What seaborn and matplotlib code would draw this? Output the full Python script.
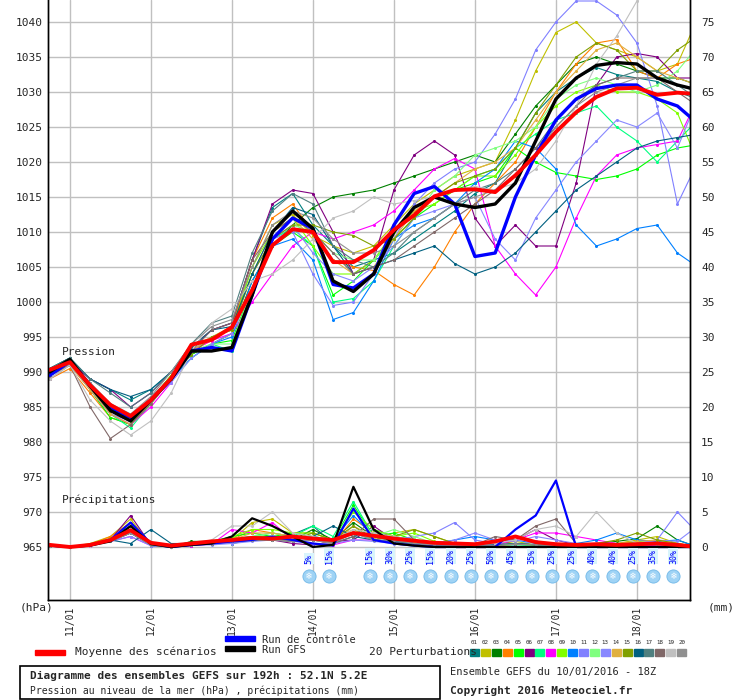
import numpy as np
import pandas as pd
import matplotlib
matplotlib.use("Agg")
import matplotlib.pyplot as plt
from matplotlib.patches import Rectangle
import seaborn as sns

# 6-hourly steps from 10/01 18Z
steps = list(range(33))
day_labels = ["11/01", "12/01", "13/01", "14/01", "15/01", "16/01", "17/01", "18/01"]
day_steps = [1, 5, 9, 13, 17, 21, 25, 29]

mean_p = [990.3, 991.4, 988.1, 985.3, 983.7, 986, 989.1, 993.9, 994.6, 996.4, 1001.7, 1008.1, 1010.4, 1010, 1005.7,
          1005.7, 1007.4, 1010.3, 1012.4, 1015.1, 1016, 1016.1, 1015.7, 1018.1, 1021, 1024.3, 1027.1, 1029.3,
          1030.5, 1030.6, 1029.6, 1029.9, 1029.7]
gfs_p = [990, 991.8, 988, 984.5, 983, 986, 989, 993, 993, 993.5, 1001, 1010, 1013, 1010.5, 1003, 1001.5, 1004, 1010,
         1013.5, 1015, 1014, 1013.5, 1014, 1017, 1023, 1029, 1032, 1033.8, 1034.2, 1034, 1032, 1031, 1030.3]
ctrl_p = [989.5, 991.5, 988, 984.8, 983.5, 986, 989, 993, 993.5, 993, 1001, 1009, 1012, 1010.5, 1002.5, 1002, 1004,
          1011, 1015.5, 1016.5, 1014, 1006.5, 1007, 1015, 1021, 1026, 1029, 1030.5, 1031, 1031, 1029, 1028, 1025.5]

pert_p = [
    [990.5, 992, 989, 987.5, 986, 987.5, 990, 993.5, 996, 997, 1006, 1013.5, 1015.5, 1011, 1008, 1005, 1006, 1007, 1009, 1011, 1013, 1015.5, 1017, 1022, 1027, 1030, 1032, 1033.5, 1032.5, 1032, 1031.5, 1030, 1029],
    [989, 991, 987.5, 984, 982.5, 985.5, 989, 993.5, 995, 996.5, 1005, 1011, 1012.5, 1009.5, 1008, 1007, 1008, 1011, 1014, 1016, 1018, 1019, 1020, 1026, 1033, 1038.5, 1040, 1037, 1036, 1035, 1033, 1034, 1040.5],
    [990, 991.5, 988, 984.5, 983, 986, 989.5, 992.5, 994, 995.5, 1003, 1008, 1011, 1013.5, 1015, 1015.5, 1016, 1017, 1018, 1019, 1020, 1021, 1020, 1024, 1028, 1031, 1034, 1035, 1034, 1033, 1032, 1032, 1031],
    [989, 990.5, 987, 983.5, 982.5, 985.5, 989, 993, 994.5, 996.5, 1006, 1012, 1014, 1010, 1006, 1005, 1004.5, 1002.5, 1001, 1005, 1010, 1014, 1017, 1020, 1025, 1030, 1034, 1037, 1037.5, 1033, 1032, 1034, 1035],
    [990, 991.5, 987.5, 983.5, 982.5, 986, 989.5, 992.5, 994, 994.5, 1002, 1008, 1010, 1008, 1001, 1003, 1006, 1009, 1012, 1014, 1016, 1017, 1018, 1022, 1020, 1018.5, 1018, 1017.5, 1018, 1019, 1021, 1022, 1022.5],
    [990.5, 991.5, 989, 987.5, 985, 987, 990, 993.5, 996, 997, 1006, 1014, 1016, 1015.5, 1010, 1004, 1006, 1016, 1021, 1023, 1021, 1012, 1008, 1011, 1008, 1008, 1017, 1031, 1035, 1035.5, 1035, 1032, 1032],
    [990, 991.5, 988, 984, 982, 985.5, 989, 992, 994, 993, 1002, 1009, 1010.5, 1008, 1000, 1000.5, 1003, 1008, 1012, 1015, 1016, 1018, 1019, 1022, 1024, 1026, 1027, 1028, 1025, 1023, 1020, 1023, 1026],
    [989.5, 991, 987.5, 984, 982.5, 985, 988.5, 993, 994.5, 995.5, 1000, 1004, 1008, 1010, 1009, 1010, 1011, 1013, 1016, 1019, 1020.5, 1019, 1008, 1004, 1001, 1005, 1012, 1018, 1021, 1022, 1022.5, 1023, 1029],
    [989.5, 991, 987.5, 984.5, 983, 986, 989.5, 993, 995, 996, 1005, 1010, 1012, 1008, 1004, 1004, 1006, 1010, 1013, 1014, 1016, 1018, 1018, 1021, 1025, 1028, 1030, 1031, 1030, 1030, 1029, 1027, 1020],
    [990, 991.5, 988.5, 985, 983.5, 986, 989, 992, 994, 995, 1003, 1008, 1009, 1006, 997.5, 998.5, 1003, 1009, 1011, 1012, 1014, 1017, 1019, 1023, 1022, 1019, 1011, 1008, 1009, 1010.5, 1011, 1007, 1005],
    [990, 991.5, 988, 984.5, 983, 986, 989, 993, 995, 996, 1004, 1009, 1010, 1004, 999.5, 1000, 1004, 1009, 1014, 1017, 1019, 1020, 1024, 1029, 1036, 1040, 1043, 1043, 1041, 1037, 1028, 1014, 1020],
    [990, 991.5, 988, 984.5, 983, 986, 989, 993, 994, 994, 1002, 1009, 1011, 1010, 1007, 1006, 1006, 1009, 1012, 1016, 1018, 1021, 1022, 1023, 1025, 1029, 1031, 1032, 1031, 1030, 1031, 1033, 1036.5],
    [989, 991, 987.5, 984, 983, 986, 988.5, 992, 994, 995.5, 1002, 1009, 1011, 1007, 1004, 1003, 1005, 1008, 1012, 1013, 1014, 1015, 1009, 1006, 1012, 1016, 1020, 1023, 1026, 1025, 1027, 1022, 1029],
    [989.5, 991, 987.5, 984, 982.5, 985.5, 989, 993, 995, 996, 1004, 1010, 1012, 1009, 1006, 1004, 1005, 1009, 1013, 1015, 1017, 1019, 1020, 1022, 1026, 1030, 1033, 1036, 1037, 1035, 1033, 1032, 1031],
    [990, 991.5, 988, 984.5, 983, 986, 989, 992.5, 995, 996, 1004, 1009, 1011, 1011, 1010, 1009.5, 1008, 1009, 1012, 1015, 1017, 1018, 1019, 1022, 1027, 1031, 1035, 1037, 1036, 1033, 1033, 1036, 1038],
    [990.5, 992, 989, 987.5, 986.5, 987.5, 990, 993.5, 996, 996.5, 1004, 1010, 1013.5, 1012.5, 1008, 1004, 1005, 1006, 1007, 1008, 1005.5, 1004, 1005, 1007, 1010, 1013, 1016, 1018, 1020, 1022, 1023, 1023.5, 1024],
    [990.5, 992, 989, 987, 985, 987, 990, 994, 997, 998, 1007, 1013, 1015.5, 1014, 1008, 1006, 1005, 1007, 1010, 1012, 1014, 1016, 1017, 1019, 1022, 1026, 1029, 1031, 1032, 1033, 1033, 1031, 1029],
    [989.5, 991, 985, 980.5, 982.5, 985.5, 989, 993, 996, 997, 1006, 1010, 1012, 1010, 1007, 1004, 1005, 1006, 1008, 1010, 1012, 1014, 1016, 1019, 1022, 1025, 1028, 1031, 1032, 1032, 1032, 1030, 1028],
    [989, 991, 986, 983, 981, 983, 987, 993, 997, 999, 1003, 1004, 1006, 1009, 1012, 1013, 1015, 1014, 1014.5, 1015, 1016, 1016.5, 1016, 1017, 1019, 1023, 1028, 1034, 1038, 1043, 1045, 1047, 1048],
    [990, 991.5, 988.5, 985.5, 984, 986.5, 990, 994, 996.5, 997.5, 1005, 1011, 1013, 1012, 1009, 1007, 1007, 1008, 1010, 1012, 1014, 1015, 1016, 1018, 1021, 1025, 1028, 1030, 1031, 1032, 1032, 1031, 1030],
]

mean_r = [0.3, 0, 0.3, 1.0, 2.4, 0.6, 0.2, 0.5, 0.8, 1.0, 1.3, 1.2, 1.5, 1.2, 1.0, 2.0, 1.6, 1.2, 0.9, 0.6, 0.5, 0.4, 0.8, 1.5, 0.7, 0.4, 0.3, 0.4, 0.3, 0.4, 0.5, 0.3, 0]
gfs_r = [0.2, 0, 0.2, 0.8, 3.0, 0.4, 0, 0.3, 0.5, 1.5, 4.1, 3.0, 1.5, 0, 0.3, 8.6, 2.5, 0.5, 0.2, 0, 0, 0, 0, 0, 0, 0, 0, 0, 0, 0, 0, 0, 0]
ctrl_r = [0.2, 0, 0.2, 1.0, 3.5, 0.5, 0, 0.3, 0.5, 0.8, 1.0, 1.5, 1.0, 0.5, 0.2, 5.5, 1.0, 0.5, 0.2, 0, 0, 0, 0, 2.5, 4.5, 9.5, 0, 0, 0, 0, 0, 0, 0]
pert_r = [
    [0.3, 0, 0.3, 1.2, 2.5, 0.2, 0, 0.5, 0.8, 1.2, 1.5, 1.0, 1.8, 3.0, 0.5, 1.5, 2.5, 1.5, 1.0, 0.5, 0.3, 0.3, 0.2, 0.5, 0.3, 0.2, 0.2, 0.3, 0.2, 0.5, 0.3, 0.2, 0],
    [0.2, 0, 0.5, 1.5, 4.0, 0.3, 0, 0.3, 0.6, 1.0, 3.5, 4.0, 2.0, 2.0, 1.0, 2.5, 1.0, 2.0, 2.5, 1.5, 0.5, 0.2, 0.3, 0.8, 0.3, 0.2, 0.3, 0.5, 0.5, 1.0, 1.5, 0.5, 0],
    [0.3, 0, 0.4, 1.0, 3.0, 0.4, 0, 0.8, 0.8, 0.5, 1.0, 1.5, 1.0, 2.5, 1.0, 3.5, 1.5, 0.8, 0.5, 0.3, 0.2, 0.2, 0.1, 0.5, 0.2, 0.1, 0.3, 0.5, 0.8, 1.2, 3.0, 1.0, 0],
    [0.2, 0, 0.3, 1.5, 3.5, 0.3, 0, 0.4, 0.5, 1.0, 2.5, 2.0, 1.5, 1.0, 0.5, 4.0, 2.0, 1.0, 0.5, 0.3, 0.2, 0.2, 0.1, 0.4, 0.2, 0.1, 0.2, 0.3, 0.3, 0.5, 0.8, 0.4, 0],
    [0.3, 0, 0.4, 1.2, 3.0, 0.2, 0, 0.5, 0.8, 1.5, 2.0, 1.5, 2.0, 1.5, 1.0, 6.0, 1.5, 2.0, 1.0, 0.5, 0.3, 0.5, 0.2, 0.4, 0.3, 0.2, 0.1, 0.4, 0.3, 0.8, 0.5, 0.3, 0],
    [0.2, 0, 0.2, 1.0, 4.5, 0.3, 0, 0.2, 0.5, 0.8, 1.0, 1.0, 0.5, 0.3, 0.8, 1.0, 3.0, 1.0, 0.5, 0.2, 0.5, 0.2, 0.3, 1.0, 2.5, 1.0, 0.3, 0.2, 0.3, 0.2, 0.5, 0.2, 0],
    [0.2, 0, 0.3, 1.0, 2.0, 0.3, 0, 0.3, 0.5, 1.0, 1.5, 2.0, 1.5, 3.0, 1.5, 6.5, 1.5, 1.5, 0.8, 0.4, 0.3, 0.2, 0.2, 0.3, 0.2, 0.1, 0.2, 0.3, 0.3, 0.4, 0.5, 0.3, 0],
    [0.1, 0, 0.2, 0.8, 1.5, 0.2, 0, 0.2, 0.4, 2.5, 2.0, 3.5, 1.0, 0.5, 0.3, 1.0, 1.0, 0.8, 0.5, 0.3, 0.2, 0.3, 0.3, 1.0, 2.0, 2.0, 1.5, 1.0, 0.5, 0.3, 0.2, 0.3, 0],
    [0.3, 0, 0.4, 1.0, 2.5, 0.3, 0, 0.5, 0.6, 1.5, 2.5, 2.5, 2.0, 2.0, 1.0, 5.0, 2.5, 1.5, 2.0, 0.8, 0.4, 0.3, 0.2, 0.5, 0.3, 0.2, 0.2, 0.3, 0.3, 0.5, 0.5, 0.3, 0],
    [0.2, 0, 0.3, 1.0, 3.0, 0.2, 0, 0.3, 0.5, 0.8, 1.0, 1.2, 1.0, 1.5, 1.0, 4.5, 1.5, 1.0, 0.5, 0.5, 1.0, 1.5, 1.0, 1.0, 0.5, 0.3, 0.5, 1.0, 2.0, 1.0, 0.8, 1.0, 0],
    [0.2, 0, 0.3, 0.8, 2.0, 0.2, 0, 0.3, 0.4, 0.6, 1.0, 1.5, 1.0, 1.0, 0.8, 2.0, 1.5, 1.0, 1.5, 2.0, 3.5, 1.0, 0.5, 0.3, 0.8, 0.5, 0.3, 0.2, 0.3, 0.5, 1.0, 5.0, 2.0],
    [0.3, 0, 0.4, 1.2, 2.0, 0.3, 0, 0.4, 0.6, 1.0, 1.5, 2.0, 1.5, 1.0, 0.8, 5.5, 1.5, 2.5, 1.5, 0.5, 0.3, 0.2, 0.2, 0.4, 0.3, 0.2, 0.2, 0.3, 0.2, 0.4, 0.5, 0.3, 0],
    [0.2, 0, 0.3, 0.8, 1.5, 0.2, 0, 0.3, 0.3, 0.5, 0.8, 1.0, 0.8, 0.5, 0.5, 1.0, 0.8, 0.5, 0.5, 0.5, 1.0, 2.0, 1.0, 0.8, 1.5, 1.0, 0.5, 0.5, 0.5, 0.5, 1.0, 0.8, 3.0],
    [0.2, 0, 0.3, 1.0, 3.5, 0.3, 0, 0.3, 0.5, 1.0, 2.0, 2.0, 1.5, 1.0, 0.5, 3.0, 1.5, 1.0, 0.8, 0.5, 0.2, 0.2, 0.2, 0.4, 0.3, 0.2, 0.3, 0.5, 0.5, 0.8, 1.0, 0.5, 0],
    [0.3, 0, 0.4, 1.0, 2.5, 0.3, 0, 0.5, 0.5, 1.0, 1.5, 1.5, 1.0, 2.0, 1.0, 3.0, 1.0, 1.5, 2.5, 1.5, 0.5, 0.3, 0.2, 0.5, 0.3, 0.2, 0.3, 0.5, 1.0, 2.0, 1.0, 0.5, 0],
    [0.2, 0, 0.3, 1.0, 0.5, 2.5, 0.5, 0.5, 0.5, 0.8, 1.0, 1.0, 1.0, 1.5, 3.0, 1.5, 1.0, 0.8, 0.5, 0.3, 0.3, 0.5, 0.3, 0.5, 0.3, 0.2, 0.2, 0.3, 0.3, 0.5, 0.5, 0.3, 0],
    [0.2, 0, 0.3, 0.8, 2.0, 0.3, 0, 0.3, 0.5, 0.8, 1.0, 1.0, 0.8, 1.0, 0.8, 2.0, 1.0, 0.8, 0.5, 0.3, 0.2, 0.3, 0.2, 0.5, 0.3, 0.2, 0.2, 0.3, 0.3, 0.5, 0.5, 0.3, 0],
    [0.2, 0, 0.3, 0.8, 2.0, 0.3, 0, 0.3, 0.5, 0.8, 1.0, 1.0, 0.8, 1.0, 0.5, 1.5, 4.0, 4.0, 1.0, 0.5, 0.2, 0.3, 1.5, 1.0, 3.0, 4.0, 0.5, 0.3, 0.2, 0.3, 0.5, 0.3, 0],
    [0.3, 0, 0.2, 1.0, 2.5, 0.3, 0, 0.5, 1.0, 3.0, 3.0, 5.0, 2.0, 1.5, 1.0, 2.5, 2.0, 1.5, 1.0, 0.5, 0.3, 0.3, 0.5, 1.0, 2.5, 3.0, 1.5, 5.0, 2.0, 0.5, 0.3, 0.2, 0],
    [0.2, 0, 0.3, 0.8, 2.0, 0.3, 0, 0.3, 0.5, 0.8, 1.0, 1.0, 0.8, 1.0, 0.5, 2.0, 1.0, 1.0, 0.5, 0.3, 0.2, 0.3, 0.2, 0.4, 0.3, 0.2, 0.2, 0.3, 0.3, 0.4, 0.5, 0.3, 0],
]

pert_colors = ["#008080", "#c0c000", "#008000", "#ff8000", "#00ff00", "#800080", "#00ff80", "#ff00ff",
               "#80ff00", "#0080ff", "#8080ff", "#80ff80", "#8888ff", "#e0b040", "#80a000", "#006080",
               "#508080", "#806868", "#c0c0c0", "#909090"]

snow_steps = [13, 14, 16, 17, 18, 19, 20, 21, 22, 23, 24, 25, 26, 27, 28, 29, 30, 31]
snow_pct = [5, 15, 15, 30, 25, 15, 20, 25, 50, 45, 35, 25, 25, 40, 40, 25, 35, 30]

sns.set_style("white")
plt.rcParams["font.family"] = ["DejaVu Sans Mono", "DejaVu Sans"]

fig = plt.figure(figsize=(7.4, 7.0), dpi=100)
ax = fig.add_axes([48 / 740, 100 / 700, 642 / 740, 600 / 700])

y_lo, y_hi = 965 - 53 / 7, 1040 + 22 / 7
ax.set_xlim(-0.08, 31.62)
ax.set_ylim(y_lo, y_hi)

for s in day_steps:
    ax.axvline(s, color="#c0c0c0", lw=1, zorder=0)
for v in range(965, 1041, 5):
    ax.axhline(v, color="#c0c0c0", lw=1, zorder=0)

frames = []
for k, (pp, rr) in enumerate(zip(pert_p, pert_r)):
    frames.append(pd.DataFrame({"step": steps, "val": pp, "m": f"p{k}"}))
    frames.append(pd.DataFrame({"step": steps, "val": [965 + r for r in rr], "m": f"r{k}"}))
df = pd.concat(frames)
palette = {}
for k, c in enumerate(pert_colors):
    palette[f"p{k}"] = c
    palette[f"r{k}"] = c
sns.lineplot(data=df, x="step", y="val", hue="m", palette=palette, lw=0.8, marker="o", markersize=2.2,
             markeredgewidth=0, legend=False, ax=ax, zorder=2)

for series, col, lw in [(ctrl_p, "blue", 2.4), (gfs_p, "black", 2.4), (mean_p, "red", 2.8)]:
    sns.lineplot(x=steps, y=series, color=col, lw=lw, ax=ax, zorder=4)
for series, col, lw in [(ctrl_r, "blue", 1.6), (gfs_r, "black", 1.6), (mean_r, "red", 2.8)]:
    sns.lineplot(x=steps, y=[965 + r for r in series], color=col, lw=lw, ax=ax, zorder=4)

for s, p in zip(snow_steps, snow_pct):
    x = s - 0.2
    ax.scatter([x], [960.8], s=90, color="#9fd3f5", edgecolor="#70b8e8", lw=0.6, zorder=5)
    ax.text(x, 960.8, "❄", ha="center", va="center", color="white", fontsize=7, zorder=6)
    ax.text(x, 962.6, f"{p}%", rotation=90, ha="center", va="bottom", color="blue", fontsize=6,
            bbox=dict(facecolor="#d8f4fc", edgecolor="none", pad=0.3), zorder=6)

ax.text(0.6, 992.4, "Pression", fontsize=8)
ax.text(0.6, 971.3, "Précipitations", fontsize=8)

ax.set_yticks(range(965, 1041, 5))
ax.set_yticklabels([str(v) for v in range(965, 1041, 5)], fontsize=8)
ax.tick_params(axis="y", length=0, pad=4)
ax2 = ax.twinx()
ax2.set_ylim(y_lo - 965, y_hi - 965)
ax2.set_yticks(range(0, 76, 5))
ax2.set_yticklabels([str(v) for v in range(0, 76, 5)], fontsize=8)
ax2.tick_params(axis="y", length=0, pad=8)
ax.set_xticks(day_steps)
ax.set_xticklabels(day_labels, rotation=90, fontsize=7)
ax.tick_params(axis="x", length=3, pad=1)
ax.set_xlabel("")
ax.set_ylabel("")
for a in (ax, ax2):
    for sp in a.spines.values():
        sp.set_color("black")
        sp.set_linewidth(1)
    a.spines["top"].set_visible(False)

fig.text(20 / 740, 1 - 607 / 700, "(hPa)", fontsize=8, va="center")
fig.text(708 / 740, 1 - 607 / 700, "(mm)", fontsize=8, va="center")


# legend area
def px(x, y):
    return x / 740, 1 - y / 700


fig.patches.append(Rectangle(px(35, 655), 30 / 740, 5 / 700, color="red", transform=fig.transFigure))
fig.text(*px(75, 652), "Moyenne des scénarios", fontsize=8, va="center")
fig.patches.append(Rectangle(px(225, 641), 30 / 740, 5 / 700, color="blue", transform=fig.transFigure))
fig.text(*px(262, 640), "Run de contrôle", fontsize=7.5, va="center")
fig.patches.append(Rectangle(px(225, 651), 30 / 740, 5 / 700, color="black", transform=fig.transFigure))
fig.text(*px(262, 650), "Run GFS", fontsize=7.5, va="center")
fig.text(*px(369, 652), "20 Perturbations", fontsize=8, va="center")
for k, c in enumerate(pert_colors):
    x0 = 470 + k * 10.9
    fig.patches.append(Rectangle(px(x0, 656), 9 / 740, 7 / 700, color=c, transform=fig.transFigure))
    fig.text(*px(x0 + 4.5, 643), f"{k + 1:02d}", fontsize=4.2, ha="center", va="center")

fig.patches.append(Rectangle(px(20, 699), 420 / 740, 33 / 700, fill=False, edgecolor="black", lw=1.2,
                             transform=fig.transFigure))
fig.text(*px(30, 676), "Diagramme des ensembles GEFS sur 192h : 52.1N 5.2E", fontsize=8, fontweight="bold",
         va="center")
fig.text(*px(30, 691), "Pression au niveau de la mer (hPa) , précipitations (mm)", fontsize=7, va="center")
fig.text(*px(450, 672), "Ensemble GEFS du 10/01/2016 - 18Z", fontsize=7.5, va="center")
fig.text(*px(450, 691), "Copyright 2016 Meteociel.fr", fontsize=8, fontweight="bold", va="center")

fig.savefig("out.png", dpi=100)
